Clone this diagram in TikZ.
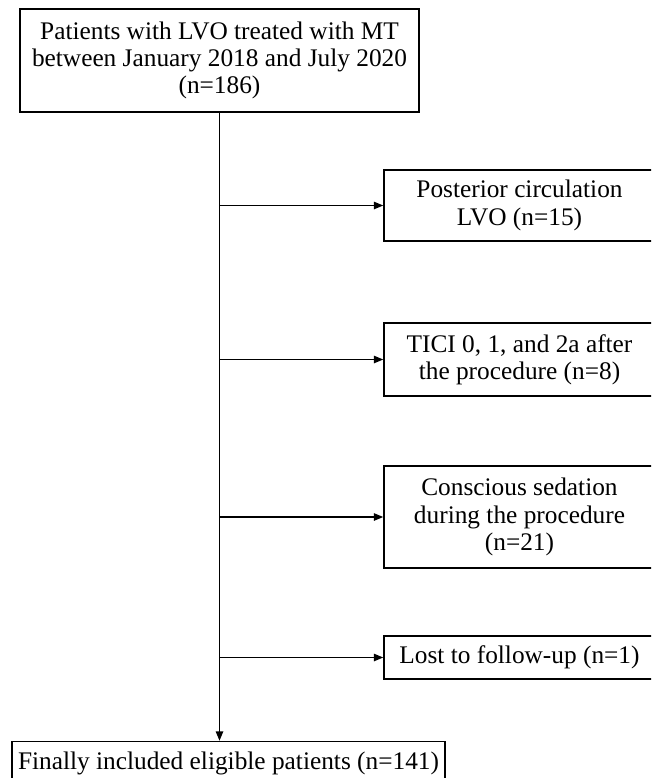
\documentclass[tikz,border=0pt]{standalone}
\usepackage{fontspec}
\setmainfont{Liberation Serif}
\usetikzlibrary{arrows.meta, positioning, calc}

\begin{document}
\begin{tikzpicture}[
    x=0.75pt, y=-0.75pt,
    box/.style={rectangle, draw, line width=1.1pt, align=center, inner sep=0pt, font=\fontsize{19}{20.5}\selectfont},
    side/.style={box, minimum width=203.25pt},
    arr/.style={-{Triangle[length=7pt, width=5.5pt]}, line width=1.1pt}
]
\clip (0,0) rectangle (651,778);

\node[box, minimum width=299.25pt, minimum height=77.25pt] (start) at (219.5,60.5) {Patients with LVO treated with MT\\between January 2018 and July 2020\\(n=186)};

\node[side, minimum height=53.25pt] (post) at (519.5,205.5) {Posterior circulation\\LVO (n=15)};
\node[side, minimum height=54.75pt] (tici) at (519.5,359.5) {TICI 0, 1, and 2a after\\the procedure (n=8)};
\node[side, minimum height=76.5pt] (sed) at (519.5,517) {Conscious sedation\\during the procedure\\(n=21)};
\node[side, minimum height=32.25pt] (lost) at (519.5,657.5) {Lost to follow-up (n=1)};

\node[box, minimum width=324.75pt, minimum height=33pt] (final) at (228.5,763.5) {Finally included eligible patients (n=141)};

\draw[arr] (start.south) -- (start.south |- final.north);
\draw[arr] (start.south |- post.west) -- (post.west);
\draw[arr] (start.south |- tici.west) -- (tici.west);
\draw[arr] (start.south |- sed.west) -- (sed.west);
\draw[arr] (start.south |- lost.west) -- (lost.west);
\end{tikzpicture}
\end{document}
